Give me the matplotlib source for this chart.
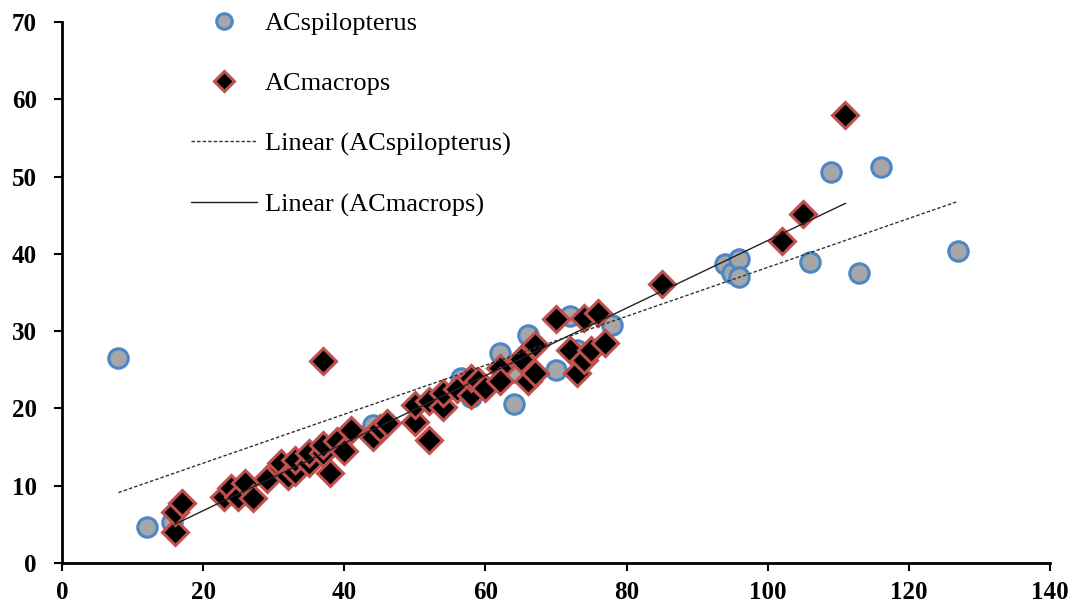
import numpy as np
import matplotlib
matplotlib.use("Agg")
import matplotlib.pyplot as plt

# ACspilopterus (grey circles); (15.6, 5.3) sits hidden under the diamonds
spil_x = [8, 12, 15.6, 44, 56.5, 58, 62, 64, 64, 66, 70, 72, 73, 78,
          94, 95, 96, 96, 106, 109, 113, 116, 127]
spil_y = [26.5, 4.6, 5.3, 17.8, 24.0, 21.5, 27.2, 24.7, 20.6, 29.5, 25.0, 32.0, 27.5, 30.8,
          38.7, 37.5, 39.3, 37.0, 39.0, 50.6, 37.5, 51.2, 40.4]

# ACmacrops (black diamonds)
mac_x = [16, 16, 17, 23, 24, 25, 26, 27, 29, 31, 31, 32, 33, 33, 35, 35, 37, 37,
         38, 39, 40, 41, 37, 44, 45, 46, 50, 50, 52, 52, 54, 54, 56, 58, 58, 59,
         60, 62, 62, 65, 66, 67, 67, 70, 72, 73, 74, 74, 75, 76, 77, 85, 102, 105, 111]
mac_y = [4.0, 6.6, 7.8, 8.6, 9.7, 8.5, 10.3, 8.4, 10.9, 12.3, 13.0, 11.2, 11.8, 13.3,
         13.0, 14.2, 14.2, 15.3, 11.6, 15.8, 14.5, 17.2, 26.1, 16.3, 17.5, 18.1, 18.3,
         20.4, 21.0, 15.9, 20.2, 22.0, 22.5, 21.7, 24.0, 23.6, 22.6, 25.2, 23.6, 26.4,
         23.6, 24.6, 28.2, 31.6, 27.6, 24.6, 31.7, 26.3, 27.6, 32.3, 28.5, 36.1, 41.7,
         45.1, 57.9]

x_ticks = [0, 20, 40, 60, 80, 100, 120, 140]
y_ticks = [0, 10, 20, 30, 40, 50, 60, 70]

plt.rcParams["font.family"] = ["Liberation Serif", "DejaVu Serif"]

fig = plt.figure(figsize=(10.8, 6.1), dpi=100)
ax = fig.add_axes([0.0574, 0.077, 0.9148, 0.887])

ax.plot(spil_x, spil_y, "o", ms=14, mfc="#A6A6A6", mec="#4A86C8", mew=2.2,
        linestyle="none", label="ACspilopterus", zorder=3)
ax.plot(mac_x, mac_y, "D", ms=13, mfc="black", mec="#C0504D", mew=2.2,
        linestyle="none", label="ACmacrops", zorder=4)


def trend(xs, ys):
    k, b = np.polyfit(xs, ys, 1)
    xx = np.array([min(xs), max(xs)])
    return xx, k * xx + b


tx, ty = trend(spil_x, spil_y)
ax.plot(tx, ty, linestyle=(0, (2.5, 1.5)), color="#333333", lw=1.0,
        label="Linear (ACspilopterus)", zorder=5)
tx, ty = trend(mac_x, mac_y)
ax.plot(tx, ty, "-", color="#222222", lw=1.0,
        label="Linear (ACmacrops)", zorder=5)

ax.set_xlim(0, 140)
ax.set_ylim(0, 70)
ax.set_xticks(x_ticks)
ax.set_yticks(y_ticks)
for s in ["top", "right"]:
    ax.spines[s].set_visible(False)
for s in ["left", "bottom"]:
    ax.spines[s].set_linewidth(2)
ax.tick_params(direction="out", length=6, width=1.5, labelsize=18)
ax.tick_params(axis="x", pad=7)
ax.tick_params(axis="y", pad=12)
for lab in ax.get_xticklabels() + ax.get_yticklabels():
    lab.set_fontweight("bold")

leg = ax.legend(loc="upper left", bbox_to_anchor=(0.1195, 1.039), frameon=False,
                fontsize=19, labelspacing=1.40, handlelength=2.5, handletextpad=0.3,
                borderaxespad=0, markerscale=0.8)

fig.savefig("out.png", dpi=100)
